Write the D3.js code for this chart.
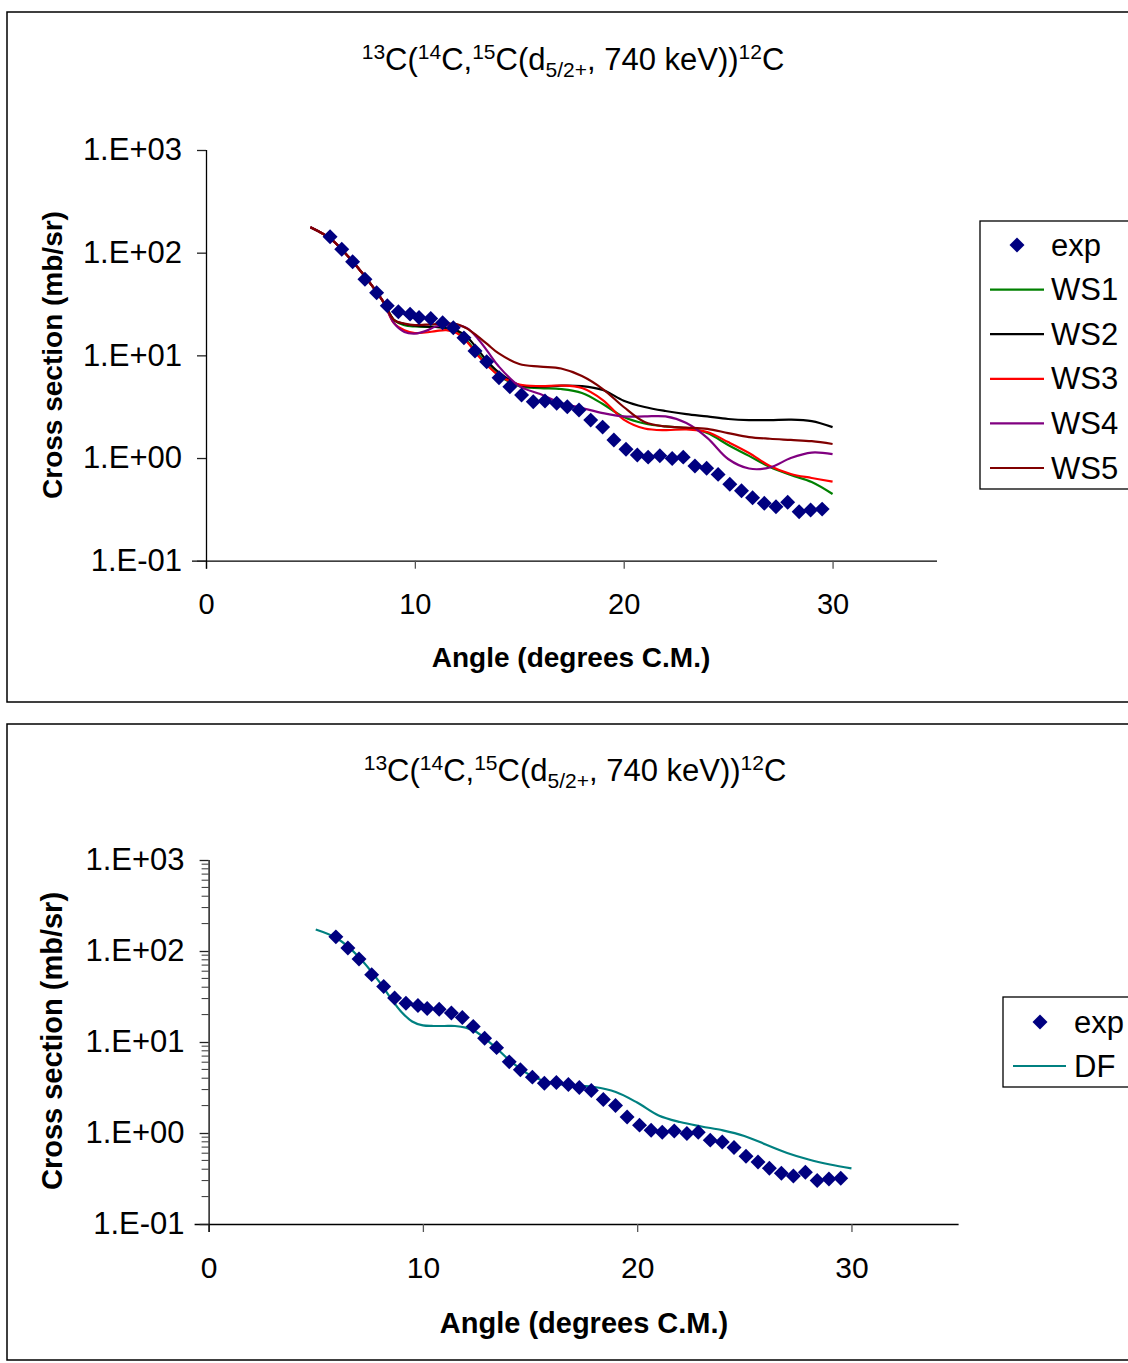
<!DOCTYPE html>
<html>
<head>
<meta charset="utf-8">
<script src="https://cdn.jsdelivr.net/npm/d3@7"></script>
<style>
  html, body { margin: 0; padding: 0; background: #fff; }
  svg { display: block; }
  text { font-family: "Liberation Sans", Arial, sans-serif; fill: #000; }
</style>
</head>
<body>
<svg id="chart" width="1128" height="1363"></svg>
<script>
// ---------- DATA ----------
const expAngle = [5.94, 6.50, 7.02, 7.61, 8.17, 8.68, 9.21, 9.77, 10.20, 10.76, 11.33, 11.84, 12.35, 12.88, 13.44,
  14.03, 14.55, 15.11, 15.67, 16.23, 16.79, 17.30, 17.86, 18.42, 18.99, 19.53, 20.11, 20.65, 21.17, 21.73,
  22.32, 22.85, 23.41, 23.97, 24.52, 25.08, 25.64, 26.17, 26.73, 27.29, 27.85, 28.40, 28.95, 29.50];
const expValue = [143, 108, 81.5, 55, 40.7, 30.4, 26.6, 25.2, 23.4, 22.9, 20.8, 18.6, 14.8, 11.0, 8.67,
  6.05, 4.95, 4.11, 3.53, 3.59, 3.41, 3.16, 2.93, 2.34, 2.00, 1.50, 1.22, 1.07, 1.02, 1.05,
  0.99, 1.02, 0.835, 0.795, 0.693, 0.555, 0.481, 0.410, 0.362, 0.336, 0.371, 0.300, 0.312, 0.318];

const curveAngle = [5, 6, 7, 8, 8.5, 9, 9.5, 10, 10.5, 11, 11.5, 12, 12.5, 13, 13.5, 14,
  15, 16, 17, 18, 19, 20, 21, 22, 23, 24, 25, 26, 27, 28, 29, 30];
const ws1 = [177, 135, 82.8, 46.2, 33, 22.1, 19.7, 19.1, 18.9, 18.9, 18.4, 16.9, 13.8, 10.5, 8.05, 6.43,
  5.02, 4.80, 4.70, 4.30, 3.36, 2.51, 2.17, 2.03, 1.96, 1.75, 1.34, 1.05, 0.817, 0.683, 0.584, 0.446];
const ws2 = [177, 135, 82.8, 46.2, 33, 22.1, 20.2, 19.5, 19.1, 18.9, 18.6, 17.6, 15.1, 11.5, 8.61, 6.88,
  5.14, 4.95, 5.08, 5.02, 4.59, 3.62, 3.14, 2.87, 2.68, 2.54, 2.40, 2.34, 2.34, 2.37, 2.29, 2.00];
const ws3 = [177, 135, 82.8, 46.2, 33, 20.6, 17.6, 16.5, 16.7, 17.2, 17.6, 16.5, 13.5, 10.1, 7.87, 6.43,
  5.20, 5.02, 5.08, 4.80, 3.67, 2.37, 1.94, 1.87, 1.90, 1.79, 1.43, 1.12, 0.836, 0.699, 0.639, 0.588];
const ws4 = [177, 135, 82.8, 46.2, 33, 20.6, 16.9, 16.3, 17.2, 19.1, 19.7, 19.7, 18.4, 14.7, 10.8, 7.87,
  5.02, 4.20, 3.43, 3.07, 2.74, 2.54, 2.54, 2.54, 2.19, 1.57, 0.978, 0.790, 0.808, 1.00, 1.13, 1.09];
const ws5 = [177, 135, 82.8, 46.2, 33, 22.1, 20.4, 19.7, 19.9, 20.2, 20.4, 20.2, 18.2, 15.4, 12.7, 10.5,
  8.23, 7.78, 7.44, 6.29, 4.70, 3.14, 2.24, 2.03, 1.98, 1.92, 1.75, 1.60, 1.54, 1.50, 1.46, 1.37];
const df = [172, 137, 86.6, 44.8, 30.4, 21.4, 16.8, 15.2, 15.0, 15.0, 15.0, 14.4, 12.9, 10.4, 8.27, 6.42,
  4.34, 3.54, 3.34, 3.20, 2.82, 2.16, 1.56, 1.32, 1.18, 1.07, 0.927, 0.748, 0.603, 0.511, 0.451, 0.409];

const xTicks = [0, 10, 20, 30];
const yTicks = [0.1, 1, 10, 100, 1000];
const yTickLabels = ["1.E-01", "1.E+00", "1.E+01", "1.E+02", "1.E+03"];
const titleParts = [["13", "sup"], ["C(", ""], ["14", "sup"], ["C,", ""], ["15", "sup"], ["C(d", ""],
  ["5/2+", "sub"], [", 740 keV))", ""], ["12", "sup"], ["C", ""]];
const xTitle = "Angle (degrees C.M.)";
const yTitle = "Cross section (mb/sr)";

const topSeries = [
  { name: "WS1", values: ws1, color: "#008000" },
  { name: "WS2", values: ws2, color: "#000000" },
  { name: "WS3", values: ws3, color: "#FF0000" },
  { name: "WS4", values: ws4, color: "#800080" },
  { name: "WS5", values: ws5, color: "#800000" }
];
const bottomSeries = [
  { name: "DF", values: df, color: "#008080" }
];

// ---------- DRAW ----------
const svg = d3.select("#chart");

function drawPanel(cfg) {
  const g = svg.append("g");
  // frame
  g.append("rect").attr("x", cfg.frame[0]).attr("y", cfg.frame[1])
    .attr("width", cfg.frame[2]).attr("height", cfg.frame[3])
    .attr("fill", "none").attr("stroke", "#000").attr("stroke-width", 1.5);

  const x = d3.scaleLinear().domain([0, 35]).range([cfg.x0, cfg.x1]);
  const y = d3.scaleLog().domain([0.1, 1000]).range([cfg.y0, cfg.y1]);

  // title
  const t = g.append("text").attr("x", cfg.titleX).attr("y", cfg.titleY)
    .attr("text-anchor", "middle").attr("font-size", 31);
  let shift = 0;
  titleParts.forEach(([s, k]) => {
    let target = k === "sup" ? -11 : k === "sub" ? 7 : 0;
    t.append("tspan").attr("dy", target - shift)
      .attr("font-size", k ? 21 : 31).text(s);
    shift = target;
  });

  // x axis
  const xAxis = d3.axisBottom(x).tickValues(xTicks).tickSize(8).tickPadding(24).tickFormat(d3.format("d"));
  const gx = g.append("g").attr("transform", `translate(0,${cfg.y0})`).call(xAxis);
  gx.select(".domain").attr("d", `M${cfg.x0 - 14},0.5H${cfg.x1}`).attr("stroke", "#000").attr("stroke-width", 1.3);
  gx.selectAll(".tick line").attr("stroke", "#555").attr("stroke-width", 1.3);
  gx.selectAll(".tick text").attr("font-size", cfg.tickFont).attr("font-family", '"Liberation Sans", Arial, sans-serif')
    .attr("dy", "0.72em").attr("fill", "#000");

  // y axis
  const yAxis = d3.axisLeft(y).tickValues(yTicks).tickSize(9).tickPadding(15)
    .tickFormat((d, i) => yTickLabels[i]);
  const gy = g.append("g").attr("transform", `translate(${cfg.x0},0)`).call(yAxis);
  gy.select(".domain").attr("d", `M0.5,${cfg.y1}V${cfg.y0 + 8}`).attr("stroke", "#000").attr("stroke-width", 1.3);
  gy.selectAll(".tick line").attr("stroke", "#222").attr("stroke-width", 1.3);
  gy.selectAll(".tick text").attr("font-size", 31).attr("font-family", '"Liberation Sans", Arial, sans-serif')
    .attr("fill", "#000");

  if (cfg.minor) {
    const minor = [];
    for (let e = -1; e < 3; e++) for (let m = 2; m <= 9; m++) minor.push(m * Math.pow(10, e));
    g.append("g").selectAll("line").data(minor).join("line")
      .attr("x1", cfg.x0 - 7).attr("x2", cfg.x0)
      .attr("y1", d => y(d)).attr("y2", d => y(d))
      .attr("stroke", "#333").attr("stroke-width", 1);
  }

  // axis titles
  g.append("text").attr("x", cfg.xTitleX).attr("y", cfg.xTitleY).attr("text-anchor", "middle")
    .attr("font-size", cfg.titleFont).attr("font-weight", "bold").text(xTitle);
  g.append("text").attr("transform", `translate(${cfg.yTitleX},${cfg.yTitleY}) rotate(-90)`)
    .attr("text-anchor", "middle").attr("dominant-baseline", "central")
    .attr("font-size", cfg.titleFont).attr("font-weight", "bold").text(yTitle);

  // lines
  const line = d3.line().x(d => x(d[0])).y(d => y(d[1])).curve(d3.curveCatmullRom.alpha(0.5));
  cfg.series.forEach(s => {
    g.append("path").datum(curveAngle.map((a, i) => [a, s.values[i]]))
      .attr("d", line).attr("fill", "none").attr("stroke", s.color).attr("stroke-width", 2.2);
  });

  // markers
  const sym = d3.symbol().type(d3.symbolSquare).size(112);
  g.append("g").selectAll("path").data(expAngle.map((a, i) => [a, expValue[i]])).join("path")
    .attr("d", sym).attr("fill", "#000080")
    .attr("transform", d => `translate(${x(d[0])},${y(d[1])}) rotate(45)`);

  // legend
  const L = cfg.legend;
  g.append("rect").attr("x", L.x).attr("y", L.y).attr("width", L.w).attr("height", L.h)
    .attr("fill", "#fff").attr("stroke", "#000").attr("stroke-width", 1.3);
  const rows = [{ name: "exp", marker: true }].concat(cfg.series);
  rows.forEach((r, i) => {
    const cy = L.firstY + i * L.step;
    if (r.marker) {
      g.append("path").attr("d", sym).attr("fill", "#000080")
        .attr("transform", `translate(${L.markX},${cy}) rotate(45)`);
    } else {
      g.append("line").attr("x1", L.lineX1).attr("x2", L.lineX2).attr("y1", cy).attr("y2", cy)
        .attr("stroke", r.color).attr("stroke-width", 2.2);
    }
    g.append("text").attr("x", L.textX).attr("y", cy).attr("dominant-baseline", "central")
      .attr("font-size", 31).text(r.name);
  });
}

drawPanel({
  frame: [7, 12, 1140, 690],
  x0: 206, x1: 937, y0: 560.7, y1: 150,
  titleX: 573, titleY: 70, tickFont: 29, titleFont: 28,
  xTitleX: 571, xTitleY: 667, yTitleX: 52, yTitleY: 355,
  series: topSeries, minor: false,
  legend: { x: 980, y: 221, w: 160, h: 268, firstY: 245, step: 44.6, markX: 1017, lineX1: 990, lineX2: 1044, textX: 1051 }
});

drawPanel({
  frame: [7, 724, 1140, 636],
  x0: 208.6, x1: 958.6, y0: 1224, y1: 860,
  titleX: 575, titleY: 781, tickFont: 30, titleFont: 29,
  xTitleX: 584, xTitleY: 1333, yTitleX: 52, yTitleY: 1041,
  series: bottomSeries, minor: true,
  legend: { x: 1003, y: 997, w: 140, h: 90, firstY: 1022, step: 44, markX: 1040, lineX1: 1013, lineX2: 1066, textX: 1074 }
});
</script>
</body>
</html>
